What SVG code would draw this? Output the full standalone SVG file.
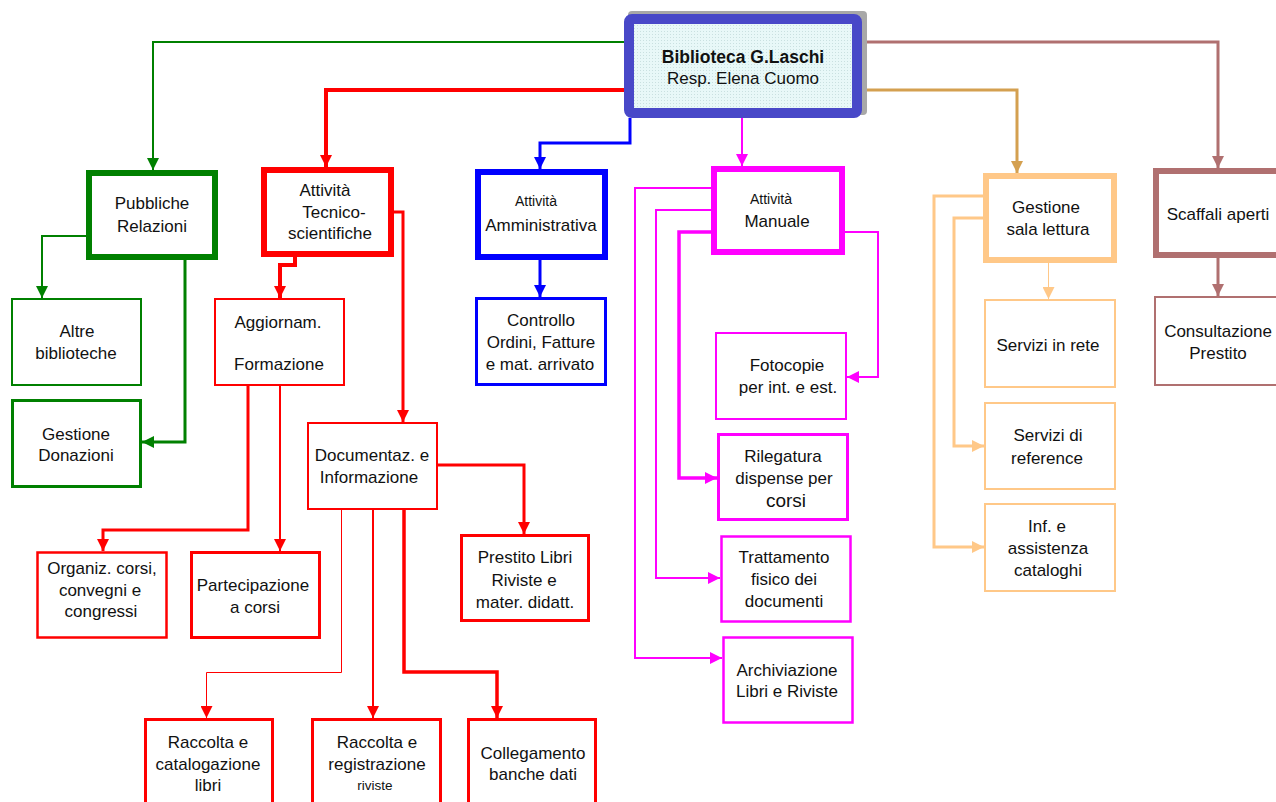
<svg xmlns="http://www.w3.org/2000/svg" width="1276" height="802" viewBox="0 0 1276 802">
<defs>
<pattern id="dots" width="3" height="3" patternUnits="userSpaceOnUse">
<rect width="3" height="3" fill="#e8f8f8"/>
<rect x="1" y="1" width="1" height="1" fill="#c9e0e0"/>
</pattern>
<marker id="aG" markerUnits="userSpaceOnUse" markerWidth="12" markerHeight="12" viewBox="0 0 12 12" refX="12" refY="6" orient="auto"><path d="M0,0 L12,6 L0,12 z" fill="#008000"/></marker>
<marker id="aR" markerUnits="userSpaceOnUse" markerWidth="12" markerHeight="12" viewBox="0 0 12 12" refX="12" refY="6" orient="auto"><path d="M0,0 L12,6 L0,12 z" fill="#ff0000"/></marker>
<marker id="aB" markerUnits="userSpaceOnUse" markerWidth="12" markerHeight="12" viewBox="0 0 12 12" refX="12" refY="6" orient="auto"><path d="M0,0 L12,6 L0,12 z" fill="#0000ff"/></marker>
<marker id="aM" markerUnits="userSpaceOnUse" markerWidth="12" markerHeight="12" viewBox="0 0 12 12" refX="12" refY="6" orient="auto"><path d="M0,0 L12,6 L0,12 z" fill="#ff00ff"/></marker>
<marker id="aT" markerUnits="userSpaceOnUse" markerWidth="12" markerHeight="12" viewBox="0 0 12 12" refX="12" refY="6" orient="auto"><path d="M0,0 L12,6 L0,12 z" fill="#ffc888"/></marker>
<marker id="aD" markerUnits="userSpaceOnUse" markerWidth="12" markerHeight="12" viewBox="0 0 12 12" refX="12" refY="6" orient="auto"><path d="M0,0 L12,6 L0,12 z" fill="#d4a050"/></marker>
<marker id="aK" markerUnits="userSpaceOnUse" markerWidth="12" markerHeight="12" viewBox="0 0 12 12" refX="12" refY="6" orient="auto"><path d="M0,0 L12,6 L0,12 z" fill="#b07070"/></marker>
</defs>
<style>
text{font-family:"Liberation Sans",Arial,sans-serif;font-size:17px;fill:#111;text-anchor:middle}
.sm{font-size:14px}
.xs{font-size:13.5px}
.lg{font-size:19px}
.b{font-weight:bold}
rect.n{fill:#fff}
.g{stroke:#008000}.r{stroke:#ff0000}.bl{stroke:#0000ff}.m{stroke:#ff00ff}.t{stroke:#ffc888}.k{stroke:#b07070}
#connectors path{fill:none;stroke-linejoin:miter}
</style>
<rect width="1276" height="802" fill="#fff"/>

<g id="connectors">
<path d="M634,42 H153 V170" stroke="#008000" stroke-width="2" marker-end="url(#aG)"/>
<path d="M634,90 H326 V167" stroke="#ff0000" stroke-width="4" marker-end="url(#aR)"/>
<path d="M630,118 V143 H540 V169" stroke="#0000ff" stroke-width="3" marker-end="url(#aB)"/>
<path d="M742,118 V166" stroke="#ff00ff" stroke-width="2" marker-end="url(#aM)"/>
<path d="M853,42 H1218 V168" stroke="#b07070" stroke-width="3" marker-end="url(#aK)"/>
<path d="M853,90 H1017 V173" stroke="#d4a050" stroke-width="3" marker-end="url(#aD)"/>

<path d="M86,236 H42 V298" stroke="#008000" stroke-width="2" marker-end="url(#aG)"/>
<path d="M185,260 V442 H142" stroke="#008000" stroke-width="3" marker-end="url(#aG)"/>

<path d="M295,257 V265 H280 V298" stroke="#ff0000" stroke-width="4" marker-end="url(#aR)"/>
<path d="M394,212 H403 V422" stroke="#ff0000" stroke-width="3" marker-end="url(#aR)"/>
<path d="M248,386 V530 H103 V551" stroke="#ff0000" stroke-width="3" marker-end="url(#aR)"/>
<path d="M280,386 V551" stroke="#ff0000" stroke-width="2" marker-end="url(#aR)"/>
<path d="M438,465 H524 V534" stroke="#ff0000" stroke-width="3" marker-end="url(#aR)"/>
<path d="M341.5,510 V672.5 H206.5 V718" stroke="#ff0000" stroke-width="1" marker-end="url(#aR)"/>
<path d="M373,510 V718" stroke="#ff0000" stroke-width="2" marker-end="url(#aR)"/>
<path d="M404,507 V672 H497 V718" stroke="#ff0000" stroke-width="3.5" marker-end="url(#aR)"/>

<path d="M540,260 V297" stroke="#0000ff" stroke-width="3" marker-end="url(#aB)"/>

<path d="M845,232 H878 V377 H847" stroke="#ff00ff" stroke-width="2" marker-end="url(#aM)"/>
<path d="M711,232 H679 V478 H717" stroke="#ff00ff" stroke-width="3.5" marker-end="url(#aM)"/>
<path d="M711,210 H656 V578 H720" stroke="#ff00ff" stroke-width="2" marker-end="url(#aM)"/>
<path d="M711,188 H635 V658 H722" stroke="#ff00ff" stroke-width="2" marker-end="url(#aM)"/>

<path d="M1048.5,263 V299" stroke="#ffc888" stroke-width="1" marker-end="url(#aT)"/>
<path d="M983,218 H954 V446 H984" stroke="#ffc888" stroke-width="3" marker-end="url(#aT)"/>
<path d="M983,196 H934 V547 H984" stroke="#ffc888" stroke-width="3" marker-end="url(#aT)"/>

<path d="M1218,258 V296" stroke="#b07070" stroke-width="3" marker-end="url(#aK)"/>
</g>

<g id="n-root">
<rect x="628" y="11" width="239" height="104" rx="4" fill="#a8a8a8"/>
<rect x="629" y="19" width="228" height="94" rx="3" fill="url(#dots)" stroke="#4848c8" stroke-width="10"/>
<text x="743" y="63" class="b" style="font-size:17.5px">Biblioteca G.Laschi</text>
<text x="743" y="84">Resp. Elena Cuomo</text>
</g>

<g id="n-pubbliche"><rect class="n g" x="89" y="173" width="126" height="84" stroke-width="6"/>
<text x="152" y="209">Pubbliche</text><text x="152" y="232">Relazioni</text></g>
<g id="n-tecnico"><rect class="n r" x="264" y="170" width="127" height="84" stroke-width="6"/>
<text x="325" y="196">Attività</text><text x="334" y="218">Tecnico-</text><text x="330" y="239">scientifiche</text></g>
<g id="n-amministrativa"><rect class="n bl" x="478" y="172" width="127" height="85" stroke-width="6"/>
<text x="536" y="206" class="sm">Attività</text><text x="541" y="231">Amministrativa</text></g>
<g id="n-manuale"><rect class="n m" x="714" y="169" width="128" height="83" stroke-width="6"/>
<text x="771" y="204" class="sm">Attività</text><text x="777" y="227">Manuale</text></g>
<g id="n-gestione"><rect class="n t" x="986" y="176" width="128" height="84" stroke-width="6"/>
<text x="1046" y="213">Gestione</text><text x="1048" y="235">sala lettura</text></g>
<g id="n-scaffali"><rect class="n k" x="1156" y="171" width="130" height="84" stroke-width="6"/>
<text x="1218" y="220">Scaffali aperti</text></g>

<g id="n-altre"><rect class="n g" x="12" y="299" width="129" height="86" stroke-width="2"/>
<text x="77" y="337">Altre</text><text x="76" y="359">biblioteche</text></g>
<g id="n-donazioni"><rect class="n g" x="12.5" y="400.5" width="128" height="86" stroke-width="3"/>
<text x="76" y="440">Gestione</text><text x="76" y="461">Donazioni</text></g>

<g id="n-aggiornam"><rect class="n r" x="215" y="299" width="129" height="86" stroke-width="2"/>
<text x="278" y="328">Aggiornam.</text><text x="279" y="370">Formazione</text></g>
<g id="n-documentaz"><rect class="n r" x="308" y="423" width="129" height="86" stroke-width="2"/>
<text x="372" y="461">Documentaz. e</text><text x="369" y="483">Informazione</text></g>
<g id="n-organiz"><rect class="n r" x="37.5" y="552.5" width="129" height="85" stroke-width="2.5"/>
<text x="102" y="574">Organiz. corsi,</text><text x="100" y="596">convegni e</text><text x="101" y="617">congressi</text></g>
<g id="n-partecipazione"><rect class="n r" x="191.5" y="552.5" width="128" height="85" stroke-width="3"/>
<text x="253" y="591">Partecipazione</text><text x="255" y="613">a corsi</text></g>
<g id="n-prestito"><rect class="n r" x="461.5" y="535.5" width="127" height="85" stroke-width="3"/>
<text x="525" y="563">Prestito Libri</text><text x="524" y="586">Riviste e</text><text x="525" y="608">mater. didatt.</text></g>
<g id="n-raccolta-cat"><rect class="n r" x="145.5" y="719.5" width="127" height="90" stroke-width="3"/>
<text x="208" y="748">Raccolta e</text><text x="208" y="770">catalogazione</text><text x="208" y="791">libri</text></g>
<g id="n-raccolta-reg"><rect class="n r" x="312.5" y="719.5" width="128" height="90" stroke-width="3"/>
<text x="377" y="748">Raccolta e</text><text x="377" y="770">registrazione</text><text x="375" y="790" class="xs">riviste</text></g>
<g id="n-collegamento"><rect class="n r" x="468.5" y="719.5" width="127" height="90" stroke-width="3"/>
<text x="533" y="759">Collegamento</text><text x="533" y="780">banche dati</text></g>

<g id="n-controllo"><rect class="n bl" x="476.5" y="298.5" width="129" height="86" stroke-width="3"/>
<text x="541" y="326">Controllo</text><text x="541" y="348">Ordini, Fatture</text><text x="540" y="370">e mat. arrivato</text></g>

<g id="n-fotocopie"><rect class="n m" x="716" y="333" width="130" height="86" stroke-width="2"/>
<text x="787" y="371">Fotocopie</text><text x="788" y="393">per int. e est.</text></g>
<g id="n-rilegatura"><rect class="n m" x="718.5" y="434.5" width="129" height="85" stroke-width="3"/>
<text x="783" y="462">Rilegatura</text><text x="784" y="484">dispense per</text><text x="786" y="507" class="lg">corsi</text></g>
<g id="n-trattamento"><rect class="n m" x="721.5" y="536.5" width="129" height="85" stroke-width="2.5"/>
<text x="784" y="563">Trattamento</text><text x="784" y="585">fisico dei</text><text x="784" y="607">documenti</text></g>
<g id="n-archiviazione"><rect class="n m" x="723.5" y="637.5" width="129" height="85" stroke-width="2.5"/>
<text x="787" y="676">Archiviazione</text><text x="787" y="697">Libri e Riviste</text></g>

<g id="n-servizi-rete"><rect class="n t" x="985" y="300" width="130" height="87" stroke-width="2"/>
<text x="1048" y="351">Servizi in rete</text></g>
<g id="n-servizi-reference"><rect class="n t" x="985" y="403" width="130" height="86" stroke-width="2"/>
<text x="1048" y="441">Servizi di</text><text x="1047" y="464">reference</text></g>
<g id="n-inf"><rect class="n t" x="985" y="504" width="130" height="87" stroke-width="2"/>
<text x="1047" y="532">Inf. e</text><text x="1048" y="554">assistenza</text><text x="1048" y="576">cataloghi</text></g>

<g id="n-consultazione"><rect class="n k" x="1155" y="297" width="130" height="88" stroke-width="2"/>
<text x="1218" y="337">Consultazione</text><text x="1218" y="359">Prestito</text></g>
</svg>
